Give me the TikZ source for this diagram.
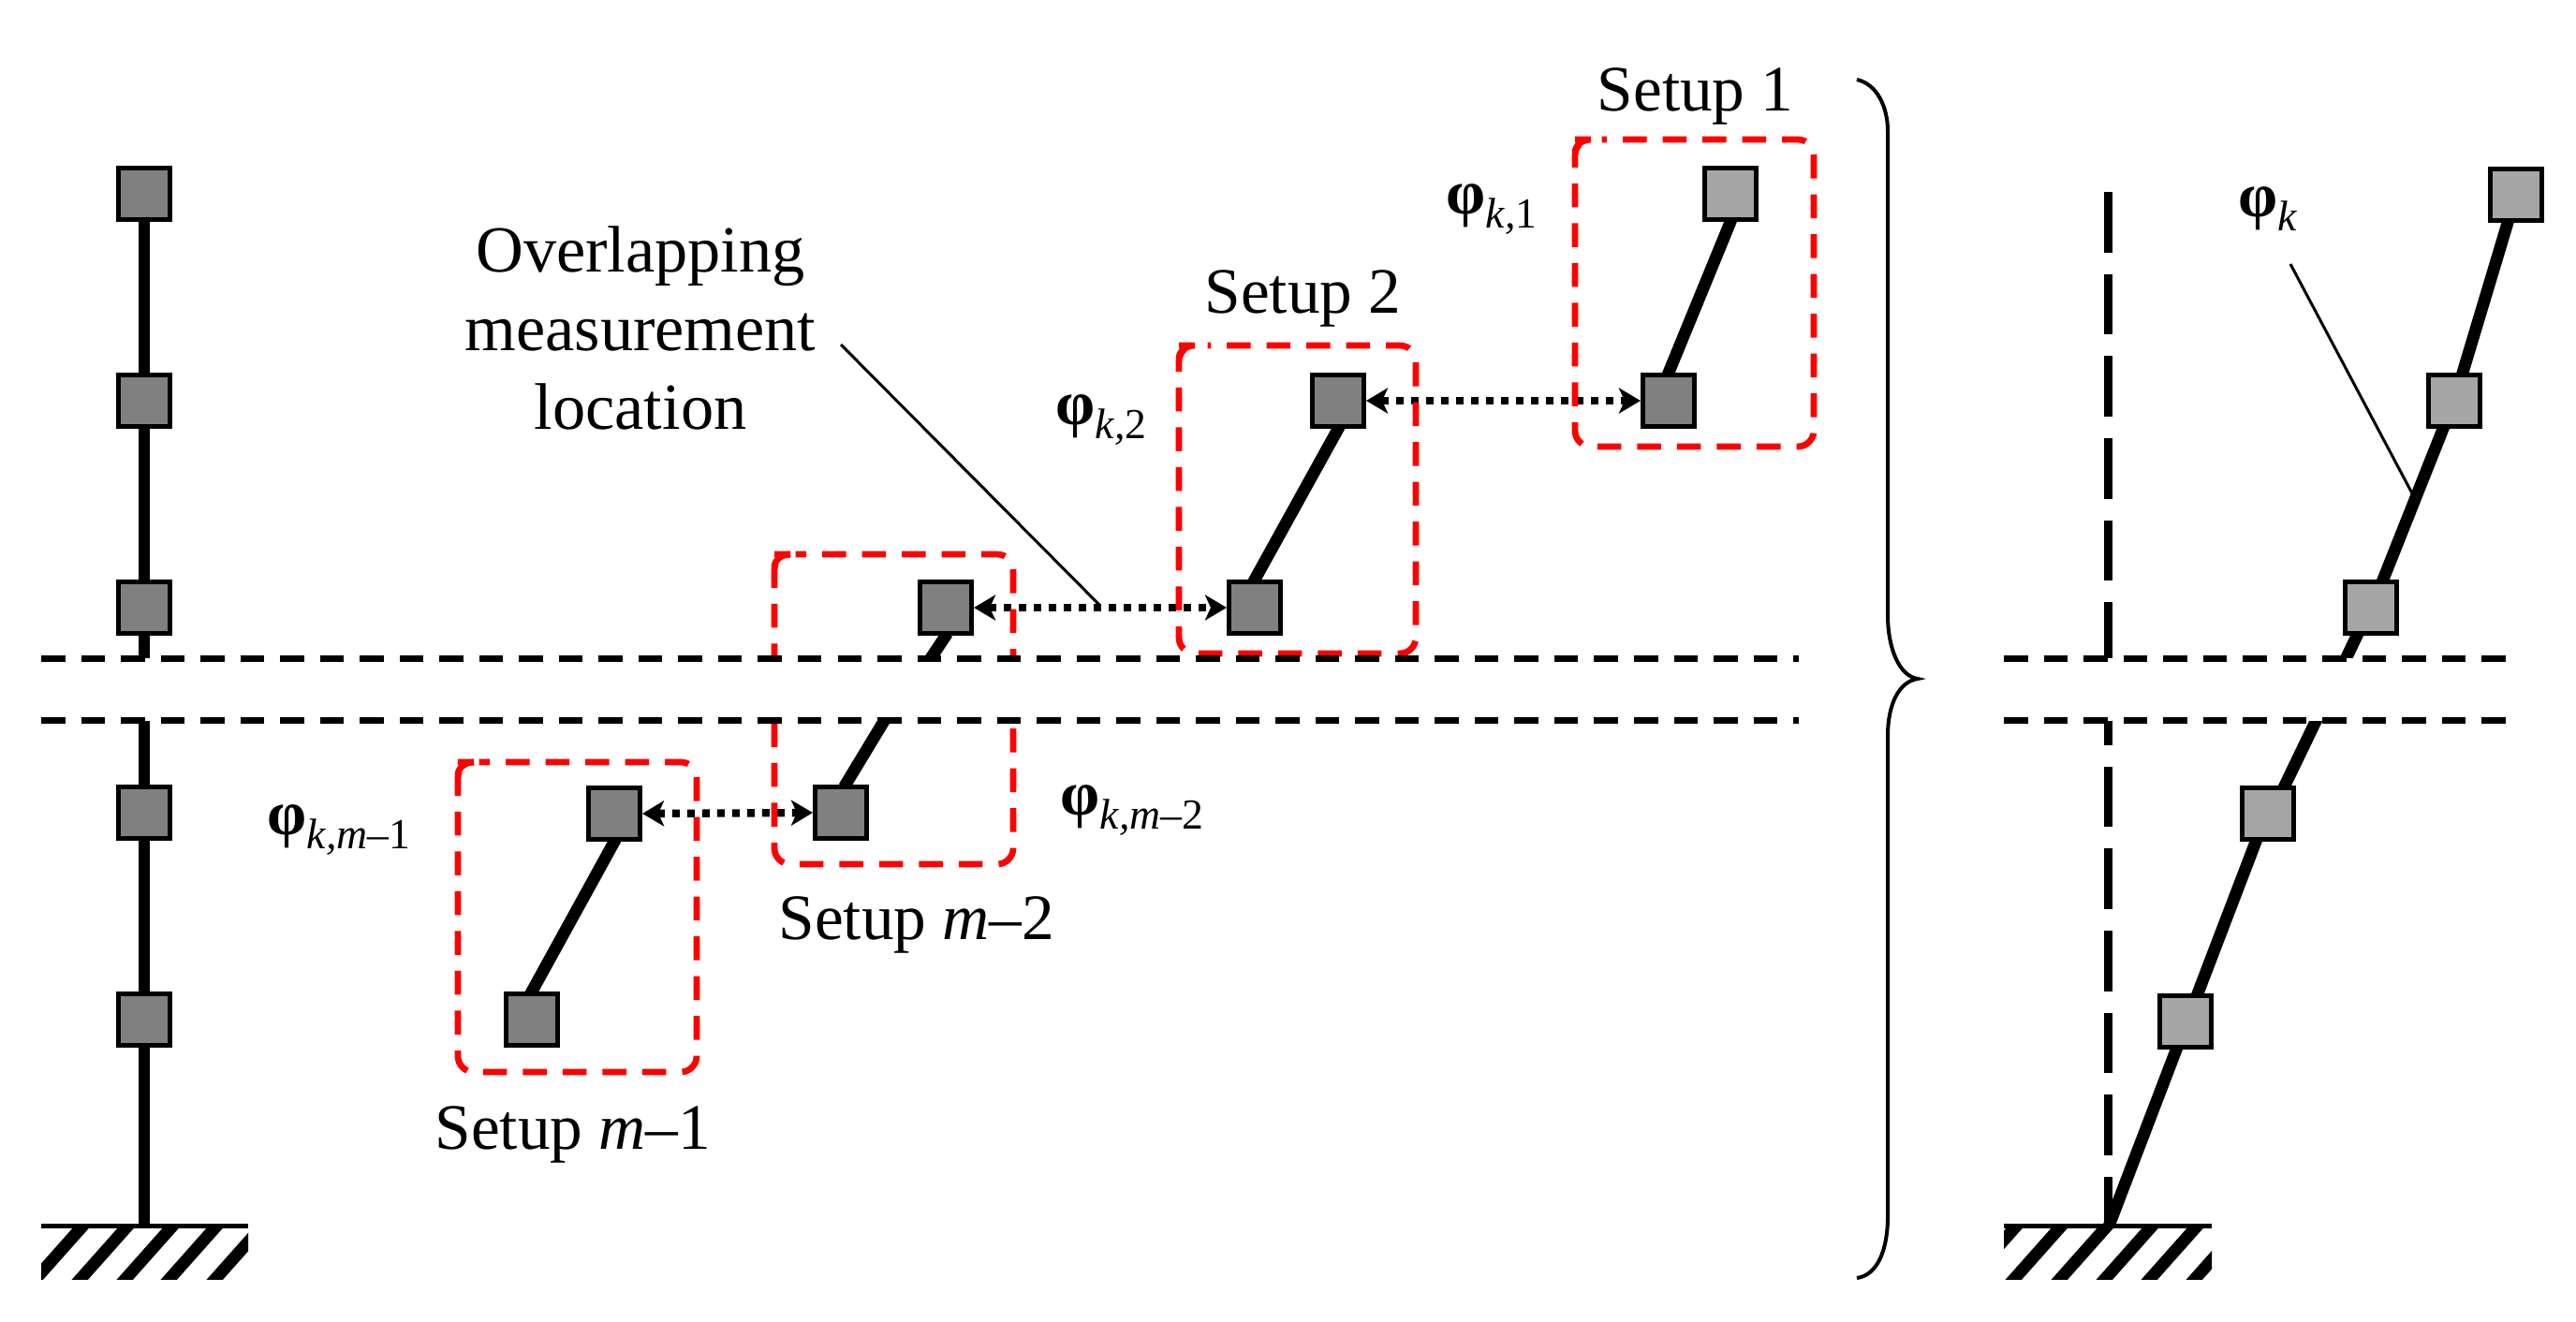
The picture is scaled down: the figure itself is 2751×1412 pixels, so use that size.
\documentclass[tikz,border=0pt]{standalone}
\usepackage{fontspec}
\setmainfont{Liberation Serif}
\usetikzlibrary{arrows.meta,backgrounds}

% one unit = one pixel of the 2751x1412 reference, y pointing down
\tikzset{
  sensor/.style={draw=black,line width=.047cm,minimum size=.553cm,inner sep=0pt},
  dark/.style={sensor,fill=gray50},
  light/.style={sensor,fill=gray65},
  beam/.style={line width=.128cm,shorten <=-.03cm,shorten >=-.03cm},
  redbox/.style={draw=red,line width=.068cm,rounded corners=.17cm,dash pattern=on .255cm off .17cm,dash phase=.255cm},
  redcorner/.style={draw=red,line width=.068cm},
  cut/.style={line width=.062cm,dash pattern=on .255cm off .17cm},
  link/.style={{Stealth[length=.23cm,width=.27cm,inset=.06cm]}-{Stealth[length=.23cm,width=.27cm,inset=.06cm]},line width=.083cm,dash pattern=on .08cm off .08cm},
  lead/.style={line width=.03cm},
  lab/.style={inner sep=0pt,anchor=base west,font=\fontsize{19.7}{23}\selectfont}
}
\definecolor{gray50}{HTML}{808080}
\definecolor{gray65}{HTML}{A6A6A6}

\newcommand{\modeshape}[1]{{\fontsize{19.2}{23}\selectfont\bfseries φ}\raisebox{-.15cm}{\fontsize{13}{14}\selectfont #1}}
\newcommand{\setupbox}[4]{%
  \draw[redbox] ({#1+17},#2) -- (#3,#2) -- (#3,#4) -- (#1,#4) -- (#1,#2) -- cycle;
  \draw[redcorner] (#1,{#2+14}) .. controls (#1,{#2+6}) and ({#1+8},#2) .. ({#1+17},#2);}
\newcommand{\hatchbase}[3]{%
  \draw[line width=.05cm] (#1,1309.5) -- (#2,1309.5);
  \begin{scope}
    \clip (#1,1312) rectangle (#2,1366);
    \foreach \s in {#3} \draw[line width=.13cm] ({\s-12},1379.5) -- ({\s+60},1298.5);
  \end{scope}}

\begin{document}
\begin{tikzpicture}[x=.01cm,y=-.01cm]
\useasboundingbox (0,0) rectangle (2751,1412);

% measured column
\node[dark] (a1) at (154,207) {};
\node[dark] (a2) at (154,428) {};
\node[dark] (a3) at (154,649) {};
\node[dark] (a4) at (154,868) {};
\node[dark] (a5) at (154,1089) {};
\coordinate (ga) at (154,1307);

% setups
\node[light] (s11) at (1848,207) {};
\node[dark] (s12) at (1782,428) {};
\node[dark] (s21) at (1429,428) {};
\node[dark] (s22) at (1340,649) {};
\node[dark] (s31) at (1010,649) {};
\node[dark] (s32) at (898,868) {};
\node[dark] (s41) at (656,869) {};
\node[dark] (s42) at (568,1089) {};
\coordinate (c1) at (984,718);
\coordinate (c2) at (955,752);

% global mode shape
\node[light] (r1) at (2687,208) {};
\node[light] (r2) at (2621,428) {};
\node[light] (r3) at (2532,649) {};
\node[light] (r4) at (2422,869) {};
\node[light] (r5) at (2334,1091) {};
\coordinate (gr) at (2253,1307);
\coordinate (ax0) at (2251,205);
\coordinate (ax1) at (2251,1307);

\begin{pgfonlayer}{background}
  \draw[beam] (a1) -- (a2);
  \draw[beam] (a2) -- (a3);
  \draw[beam] (a3) -- (a4);
  \draw[beam] (a4) -- (a5);
  \draw[beam] (a5) -- (ga);

  \draw[beam] (s11.south) -- (s12.north);
  \draw[beam] (s21.south) -- (s22.north);
  \draw[beam] (s31.south) -- (c1);
  \draw[beam] ([xshift=.05cm]s32.north) -- (c2);
  \draw[beam] (s41.south) -- (s42.north);

  \draw[beam] ([xshift=-.09cm]r1.south) -- ([xshift=.09cm]r2.north);
  \draw[beam] ([xshift=-.12cm]r2.south) -- ([xshift=.13cm]r3.north);
  \draw[beam] ([xshift=-.15cm]r3.south) -- ([xshift=.18cm]r4.north);
  \draw[beam] ([xshift=-.13cm]r4.south) -- (gr);
  \draw[line width=.09cm,dash pattern=on .648cm off .228cm] (ax0) -- (ax1);

  \draw[link] (s21.east) -- (s12.west);
  \draw[link] (s31.east) -- (s22.west);
  \draw[link] (s41.east) -- (s32.west);

  \setupbox{1682}{149}{1937}{477}
  \setupbox{1259}{369}{1512}{698}
  \setupbox{827}{592}{1082}{923}
  \setupbox{489}{814}{744}{1145}

  % break in the height of the structure
  \fill[white] (0,703) rectangle (2751,770);
\end{pgfonlayer}

\draw[cut] (44,703.5) -- (1921,703.5);
\draw[cut] (44,769.5) -- (1921,769.5);
\draw[cut] (2140,703.5) -- (2676,703.5);
\draw[cut] (2140,769.5) -- (2676,769.5);

\hatchbase{44}{265}{38,86,134,181,230}
\hatchbase{2140}{2362}{2103,2151,2200,2248,2296,2344}

% leaders
\coordinate (l1) at (898,368);
\coordinate (l2) at (1175,647);
\coordinate (l3) at (2446,282);
\coordinate (l4) at (2576,527);
\draw[lead] (l1) -- (l2);
\draw[lead] (l3) -- (l4);

% brace
\draw[line width=.04cm] (1983,85) .. controls (2005,90) and (2016,115) .. (2016,140)
  -- (2016,657) .. controls (2016,692) and (2028,722) .. (2048,725)
  .. controls (2028,728) and (2016,752) .. (2016,786)
  -- (2016,1299) .. controls (2016,1335) and (2005,1362) .. (1983,1365);

% texts
\node[lab] (t1) at (1705,118) {Setup 1};
\node[lab] (t2) at (1286,334) {Setup 2};
\node[lab] (t3) at (831,1003) {Setup \textit{m}–2};
\node[lab] (t4) at (464,1227) {Setup \textit{m}–1};
\node[inner sep=0pt,align=center,font=\fontsize{20}{23.9}\selectfont] (t5) at (684,350) {Overlapping\\measurement\\location};

\node[lab] (p1) at (1544,228) {\modeshape{\textit{k,}1}};
\node[lab] (p2) at (1127,453) {\modeshape{\textit{k,}2}};
\node[lab] (p3) at (1132,870) {\modeshape{\textit{k,m}–2}};
\node[lab] (p4) at (285,891) {\modeshape{\textit{k,m}–1}};
\node[lab] (p5) at (2390,231) {\modeshape{\textit{k}}};
\end{tikzpicture}
\end{document}
